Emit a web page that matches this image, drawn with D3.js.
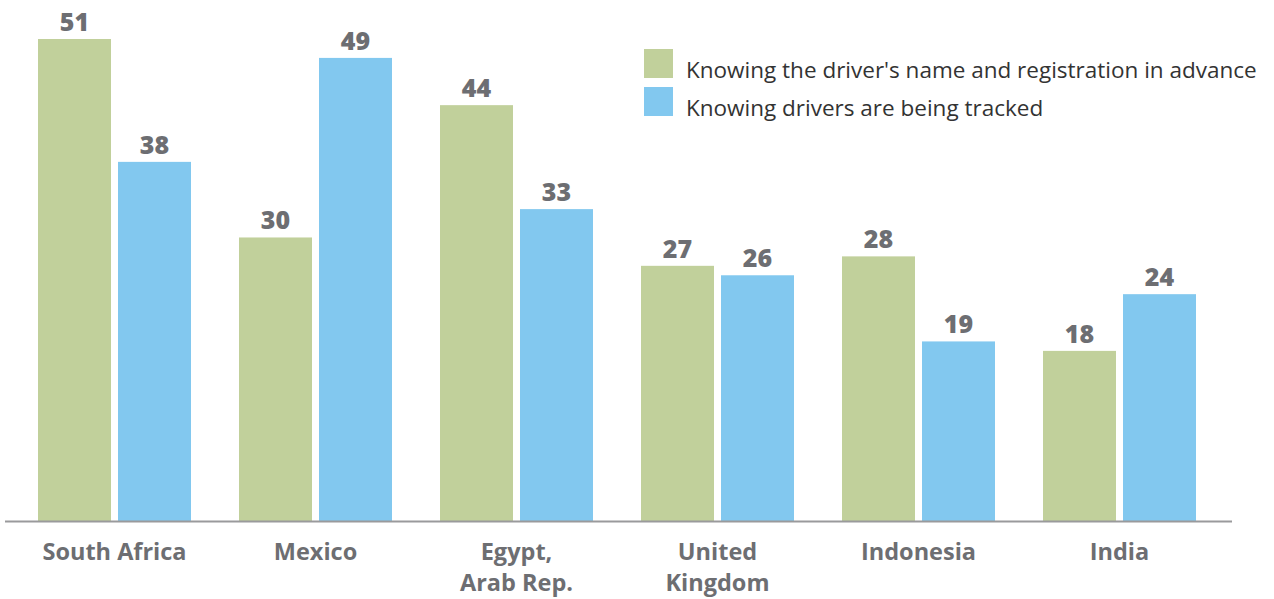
<!DOCTYPE html>
<html>
<head>
<meta charset="utf-8">
<script src="https://cdn.jsdelivr.net/npm/d3@7"></script>
<style>
  html, body { margin: 0; padding: 0; background: #ffffff; }
  svg { display: block; }
</style>
</head>
<body>
<svg id="chart" width="1274" height="599"></svg>
<script>
// Countries shown along the x axis (line breaks marked with "\n")
const countries = ["South Africa", "Mexico", "Egypt,\nArab Rep.", "United\nKingdom", "Indonesia", "India"];
// Share of respondents (%) for each safety feature
const nameAndRegistration = [51, 30, 44, 27, 28, 18];
const beingTracked = [38, 49, 33, 26, 19, 24];
const seriesNames = [
  "Knowing the driver's name and registration in advance",
  "Knowing drivers are being tracked"
];
const seriesColors = ["#c1d09b", "#82c8ef"];

const svg = d3.select("#chart");
const baseline = 521;
const labelColor = "#6d6e72";
const fontFamily = "'Open Sans', 'Noto Sans', sans-serif";

const seriesData = [nameAndRegistration, beingTracked];
const rows = countries.map((c, i) => ({ country: c, values: seriesData.map(s => s[i]) }));

const x0 = d3.scaleBand().domain(countries).range([14, 1220]).paddingInner(48 / 201).paddingOuter(24 / 201);
const x1 = d3.scaleBand().domain([0, 1]).range([0, x0.bandwidth()]).paddingInner(7 / 80);
const y = d3.scaleLinear().domain([0, 51]).range([baseline, 39]);

const groups = svg.append("g").selectAll("g")
  .data(rows).join("g")
  .attr("transform", d => `translate(${x0(d.country)},0)`);

groups.selectAll("rect")
  .data(d => d.values.map((v, k) => ({ v, k })))
  .join("rect")
  .attr("x", d => x1(d.k))
  .attr("width", x1.bandwidth())
  .attr("y", d => y(d.v))
  .attr("height", d => baseline - y(d.v))
  .attr("fill", d => seriesColors[d.k]);

groups.selectAll("text.value")
  .data(d => d.values.map((v, k) => ({ v, k })))
  .join("text")
  .attr("class", "value")
  .attr("x", d => x1(d.k) + x1.bandwidth() / 2)
  .attr("y", d => y(d.v) - 8)
  .attr("text-anchor", "middle")
  .attr("fill", labelColor)
  .style("font-family", fontFamily)
  .style("font-weight", 800)
  .style("font-size", "25px")
  .text(d => d.v);

// Baseline axis
const xAxis = d3.axisBottom(x0).tickSize(0).tickFormat("");
const axisG = svg.append("g").attr("transform", `translate(0,${baseline})`).call(xAxis);
axisG.select(".domain").remove();
axisG.append("line")
  .attr("x1", 5).attr("x2", 1232)
  .attr("y1", 0.5).attr("y2", 0.5)
  .attr("stroke", "#9a9a9c").attr("stroke-width", 2);

// Country labels
svg.append("g").selectAll("text")
  .data(countries).join("text")
  .attr("x", d => x0(d) + x0.bandwidth() / 2)
  .attr("y", 560)
  .attr("text-anchor", "middle")
  .attr("fill", labelColor)
  .style("font-family", fontFamily)
  .style("font-weight", 700)
  .style("font-size", "23.5px")
  .each(function (d) {
    const t = d3.select(this);
    d.split("\n").forEach((line, i) => {
      t.append("tspan")
        .attr("x", x0(d) + x0.bandwidth() / 2)
        .attr("dy", i === 0 ? 0 : 31)
        .text(line);
    });
  });

// Legend
const legend = svg.append("g").attr("transform", "translate(644,49)");
const items = legend.selectAll("g").data(seriesNames).join("g")
  .attr("transform", (d, i) => `translate(0,${i * 38})`);
items.append("rect")
  .attr("width", 29).attr("height", 29)
  .attr("fill", (d, i) => seriesColors[i]);
items.append("text")
  .attr("x", 42).attr("y", 29)
  .attr("fill", "#333333")
  .style("font-family", fontFamily)
  .style("font-weight", 400)
  .style("font-size", "22.5px")
  .text(d => d);
</script>
</body>
</html>
